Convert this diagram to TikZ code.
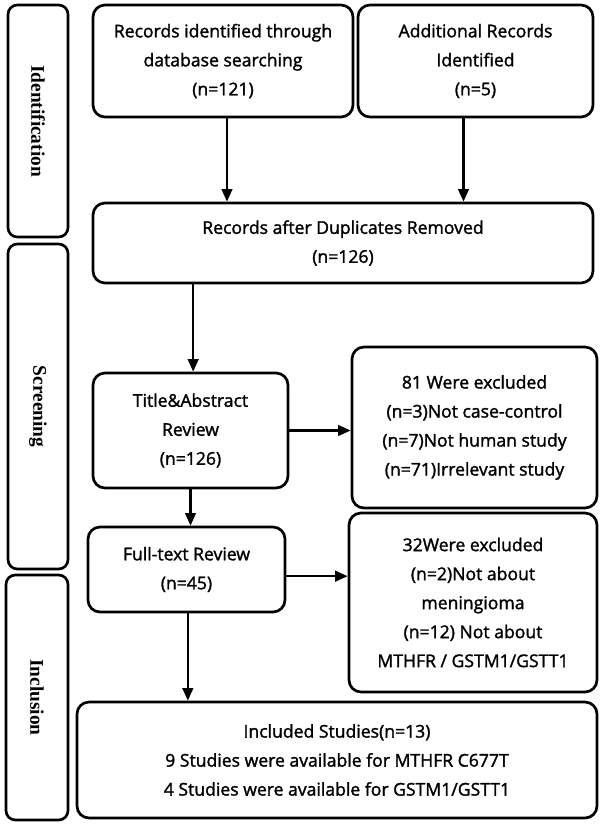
\documentclass[tikz,border=0pt]{standalone}
\usepackage{fontspec}
\setmainfont{Open Sans}
\newfontfamily\boxfont{Open Sans}[FakeBold=1.6]
\newfontfamily\sidefont{Liberation Serif}
\usetikzlibrary{arrows.meta}

\begin{document}
\begin{tikzpicture}[
    x=0.75pt, y=-0.75pt,
    font=\boxfont\fontsize{13.2}{21.75}\selectfont,
    blk/.style={draw, line width=2pt, rounded corners=9pt, align=center, inner sep=2pt},
    stage/.style={draw, line width=2pt, rounded corners=7pt, inner sep=0pt,
      font=\sidefont\bfseries\fontsize{14.5}{16}\selectfont},
    arr/.style={-{Triangle[length=9.5pt,width=8pt]}, line width=1.8pt}
  ]
  \useasboundingbox (0,0) rectangle (600,825);

  % phase labels on the left
  \node[stage, minimum width=45pt, minimum height=174pt] (sid) at (38,121) {\rotatebox{-90}{Identification}};
  \node[stage, minimum width=45pt, minimum height=243.75pt] (sscr) at (38,406.5) {\rotatebox{-90}{Screening}};
  \node[stage, minimum width=46.5pt, minimum height=183.75pt] (sinc) at (37,697.5) {\rotatebox{-90}{Inclusion}};

  % flow boxes
  \node[blk, minimum width=195pt, minimum height=84pt] (db) at (223,61)
    {Records identified through\\database searching\\(n=121)};
  \node[blk, minimum width=176.25pt, minimum height=84pt] (add) at (475.5,61)
    {Additional Records\\Identified\\(n=5)};
  \node[blk, minimum width=375pt, minimum height=60pt] (dup) at (343,243)
    {Records after Duplicates Removed\\(n=126)};
  \node[blk, minimum width=146.25pt, minimum height=86.25pt] (tar) at (190.5,430.5)
    {Title\&Abstract\\Review\\(n=126)};
  \node[blk, minimum width=183.75pt, minimum height=120.75pt] (exa) at (474.5,427.5)
    {81 Were excluded\\(n=3)Not case-control\\(n=7)Not human study\\(n=71)Irrelevant study};
  \node[blk, minimum width=147.75pt, minimum height=63.75pt] (ftr) at (186.5,569.5)
    {Full-text Review\\(n=45)};
  \node[blk, minimum width=186pt, minimum height=134.25pt] (exb) at (473,602.5)
    {32Were excluded\\(n=2)Not about\\meningioma\\(n=12) Not about\\MTHFR / GSTM1/GSTT1};
  \node[blk, minimum width=390pt, minimum height=87pt] (inc) at (337,760)
    {Included Studies(n=13)\\9 Studies were available for MTHFR C677T\\4 Studies were available for GSTM1/GSTT1};

  % arrows
  \draw[arr] ([xshift=3pt]db.south) -- ([xshift=3pt]db.south |- dup.north);
  \draw[arr] ([xshift=-9pt]add.south) -- ([xshift=-9pt]add.south |- dup.north);
  \draw[arr] ([xshift=2pt]tar.north |- dup.south) -- ([xshift=2pt]tar.north);
  \draw[arr] (tar.east) -- (tar.east -| exa.west);
  \draw[arr] (tar.south) -- (tar.south |- ftr.north);
  \draw[arr] ([yshift=-5pt]ftr.east) -- ([yshift=-5pt]ftr.east -| exb.west);
  \draw[arr] ([xshift=1pt]ftr.south) -- ([xshift=1pt]ftr.south |- inc.north);
\end{tikzpicture}
\end{document}
